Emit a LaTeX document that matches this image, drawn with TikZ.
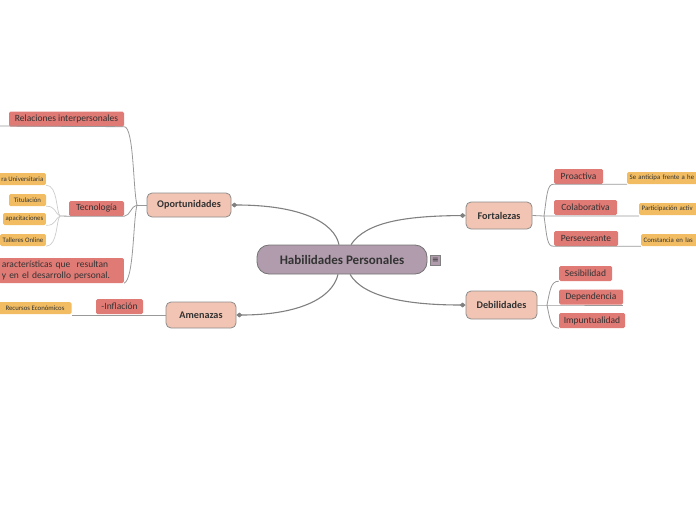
\documentclass[tikz,border=0pt]{standalone}
\usepackage{fontspec}
\setmainfont{Carlito}
\newfontfamily\dejavu{DejaVu Sans}
\usetikzlibrary{arrows.meta}
\definecolor{habfill}{HTML}{B09CAC}
\definecolor{ramafill}{HTML}{F2C4B3}
\definecolor{rojofill}{HTML}{E07A75}
\definecolor{naranjafill}{HTML}{F1BC62}
\definecolor{texto}{HTML}{333333}

\begin{document}
\begin{tikzpicture}[x=1pt,y=-1pt,
    hab/.style={draw=black!55,fill=habfill,rounded corners=12pt,minimum width=170pt,minimum height=29pt,line width=0.8pt,font=\fontsize{13}{15}\selectfont\bfseries,text=texto},
    rama/.style={draw=black!45,fill=ramafill,rounded corners=5pt,minimum height=25pt,line width=0.8pt,font=\fontsize{10.2}{12}\selectfont\bfseries,text=texto},
    rojo/.style={fill=rojofill,rounded corners=1.5pt,minimum height=15pt,inner xsep=4pt,inner ysep=0pt,font=\fontsize{9.5}{11}\selectfont,text=texto},
    naranja/.style={fill=naranjafill,rounded corners=1.5pt,minimum height=12pt,inner xsep=2.5pt,inner ysep=0pt,font=\fontsize{6.8}{8}\selectfont,text=texto},
    tronco/.style={draw=black!50,line width=1.1pt},
    hoja/.style={draw=black!40,line width=0.8pt},
    fina/.style={draw=black!20,line width=0.7pt},
    rombo/.style={-{Diamond[length=6pt,width=5pt]}}]
  \clip (0,0) rectangle (696,520);

  % centro y ramas principales
  \node[hab] (hab) at (342,259.5) {Habilidades Personales};
  \node[draw=black!50,fill=habfill,minimum size=10pt,inner sep=0pt,font=\dejavu\fontsize{8}{8}\selectfont,text=texto] (menu) at (435.5,260.5) {≡};
  \node[rama,minimum width=84pt,minimum height=24pt] (opor) at (189,205) {Oportunidades};
  \node[rama,minimum width=70pt,minimum height=26pt] (amen) at (201,315) {Amenazas};
  \node[rama,minimum width=66pt,minimum height=27pt] (fort) at (499,215.5) {Fortalezas};
  \node[rama,minimum width=71pt,minimum height=28pt] (debi) at (501.5,305) {Debilidades};

  \draw[tronco,rombo] ([xshift=-3pt]hab.north) .. controls (334,222) and (300,205) .. (opor.east);
  \draw[tronco,rombo] ([xshift=9pt]hab.north) .. controls (366,222) and (405,216) .. (fort.west);
  \draw[tronco,rombo] ([xshift=-4pt]hab.south) .. controls (332,300) and (295,315) .. (amen.east);
  \draw[tronco,rombo] ([xshift=8pt]hab.south) .. controls (364,298) and (410,305) .. (debi.west);

  % oportunidades
  \node[rojo,minimum width=115pt] (rel) at (66.5,119) {Relaciones interpersonales};
  \node[rojo,minimum width=55pt] (tec) at (96.5,208.5) {Tecnología};
  \node[rojo,anchor=east,text width=119pt,align=left,minimum height=25pt,inner ysep=2pt,inner xsep=3pt] (car) at (124,270.5) {aracterísticas que \ resultan\\y en el desarrollo personal.};
  \coordinate (oporjunc) at (137,205);
  \coordinate (relend) at (0,126);
  \coordinate (tecjunc) at (60,216);
  \draw[hoja] (opor.west) -- (oporjunc);
  \draw[hoja] (oporjunc) .. controls (133,190) and (134,127) .. (rel.south east) -- (relend);
  \draw[hoja] (oporjunc) .. controls (131,206) and (130,216) .. (tec.south east) -- (tec.south west) -- (tecjunc);
  \draw[hoja] (oporjunc) .. controls (133,220) and (134,280) .. (car.south east);

  \node[naranja,anchor=east] (uni) at (46,179) {ra Universitaria};
  \node[naranja,minimum width=37pt] (tit) at (27.5,200) {Titulación};
  \node[naranja,anchor=east] (cap) at (46,219) {apacitaciones};
  \node[naranja,anchor=east] (tal) at (46,240) {Talleres Online};
  \draw[fina] (uni.south east) .. controls (58,185) and (56,212) .. (tecjunc);
  \draw[fina] (tit.south east) .. controls (56,206) and (55,214) .. (tecjunc);
  \draw[fina] (cap.south east) .. controls (56,226) and (55,218) .. (tecjunc);
  \draw[fina] (tal.south east) .. controls (58,246) and (56,220) .. (tecjunc);

  % amenazas
  \node[rojo,minimum width=47pt] (infl) at (119.5,306.5) {-Inflación};
  \node[naranja,minimum width=73pt] (rec) at (35,308) {Recursos Económicos};
  \draw[hoja] (amen.west) -- (amen.west -| rec.east);

  % fortalezas
  \node[rojo,minimum width=49pt] (pro) at (578.5,176.5) {Proactiva};
  \node[rojo,minimum width=63pt] (col) at (585.5,207.5) {Colaborativa};
  \node[rojo,minimum width=64pt] (per) at (586,238.5) {Perseverante};
  \node[naranja,anchor=west,text width=80pt,align=left] (ant) at (627,178) {Se anticipa frente a he};
  \node[naranja,anchor=west,text width=70pt,align=left] (par) at (639,209) {Participación activ};
  \node[naranja,anchor=west,text width=70pt,align=left] (cons) at (641,240) {Constancia en las};
  \coordinate (fortjunc) at (544,216);
  \draw[hoja] (fort.east) -- (fortjunc) -- (fortjunc -| par.west);
  \draw[hoja] (fortjunc) .. controls (547,195) and (547,184) .. (pro.south west) -- (ant.south west);
  \draw[hoja] (fortjunc) .. controls (547,237) and (547,247) .. (per.south west) -- (cons.south west);

  % debilidades
  \node[rojo,minimum width=53pt] (ses) at (585.5,273.5) {Sesibilidad};
  \node[rojo,minimum width=64pt] (dep) at (591,297) {Dependencia};
  \node[rojo,minimum width=66pt] (imp) at (592,320.5) {Impuntualidad};
  \coordinate (debijunc) at (547,305);
  \draw[hoja] (debi.east) -- (debijunc) -- (debijunc -| dep.east);
  \draw[hoja] (debijunc) .. controls (550,290) and (551,281) .. (ses.south west);
  \draw[hoja] (debijunc) .. controls (550,320) and (551,328) .. (imp.south west);
\end{tikzpicture}
\end{document}
